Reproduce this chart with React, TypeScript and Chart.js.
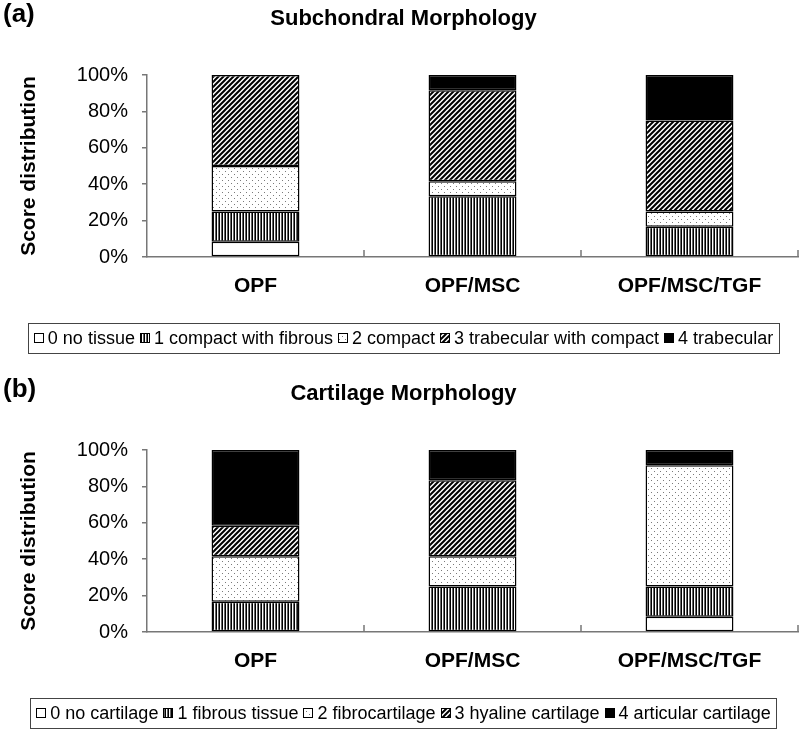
import React, { useEffect, useRef } from 'react';
import { Chart, registerables } from 'chart.js';

Chart.register(...registerables);

// ---------- data ----------
const categories = ['OPF', 'OPF/MSC', 'OPF/MSC/TGF'];
const yTickStep = 20;

const subTitle = 'Subchondral Morphology';
const subLetter = '(a)';
const subLabels = ['0 no tissue', '1 compact with fibrous', '2 compact', '3 trabecular with compact', '4 trabecular'];
const subNoTissue = [8.33, 0, 0];
const subCompactFibrous = [16.67, 33.33, 16.67];
const subCompact = [25, 8.33, 8.33];
const subTrabCompact = [50, 50, 50];
const subTrabecular = [0, 8.33, 25];

const cartTitle = 'Cartilage Morphology';
const cartLetter = '(b)';
const cartLabels = ['0 no cartilage', '1 fibrous tissue', '2 fibrocartilage', '3 hyaline cartilage', '4 articular cartilage'];
const cartNone = [0, 0, 8.33];
const cartFibrous = [16.67, 25, 16.67];
const cartFibrocart = [25, 16.67, 66.67];
const cartHyaline = [16.67, 41.67, 0];
const cartArticular = [41.67, 16.67, 8.33];

const FONT = '"Liberation Sans", Arial, sans-serif';

function makePatterns(): any[] {
  const mk = (w: number, h: number, draw: (x: CanvasRenderingContext2D) => void) => {
    const c = document.createElement('canvas');
    c.width = w;
    c.height = h;
    const x = c.getContext('2d') as CanvasRenderingContext2D;
    x.fillStyle = '#ffffff';
    x.fillRect(0, 0, w, h);
    draw(x);
    return x.createPattern(c, 'repeat');
  };
  const vert = mk(3, 3, (x) => {
    x.fillStyle = '#000';
    x.fillRect(0, 0, 1, 3);
    x.fillStyle = '#666';
    x.fillRect(2, 0, 1, 3);
  });
  const dots = mk(6, 6, (x) => {
    x.fillStyle = '#7a7a7a';
    x.fillRect(0, 0, 1, 1);
    x.fillRect(3, 3, 1, 1);
  });
  const diag = mk(5, 5, (x) => {
    x.strokeStyle = '#000';
    x.lineWidth = 2;
    x.beginPath();
    x.moveTo(-2, 7); x.lineTo(7, -2);
    x.moveTo(-3, 3); x.lineTo(3, -3);
    x.moveTo(2, 8); x.lineTo(8, 2);
    x.stroke();
  });
  return ['#ffffff', vert, dots, diag, '#000000'];
}

const decorPlugin = {
  id: 'decor',
  afterDraw(chart: any, _args: any, opts: any) {
    const { ctx, chartArea } = chart;
    const cx = chart.width / 2 + 3.5;
    ctx.save();
    // panel letter
    ctx.fillStyle = '#000';
    ctx.textBaseline = 'alphabetic';
    ctx.textAlign = 'left';
    ctx.font = `bold 26px ${FONT}`;
    ctx.fillText(opts.letter, 3, chartArea.top - 53);
    // title
    ctx.textAlign = 'center';
    ctx.font = `bold 22px ${FONT}`;
    ctx.fillText(opts.title, cx, chartArea.top - 50);

    // inward tick marks at category boundaries on the x axis
    const xs = chart.scales.x;
    const half = (xs.getPixelForValue(1) - xs.getPixelForValue(0)) / 2;
    ctx.strokeStyle = '#777';
    ctx.lineWidth = 1.5;
    ctx.beginPath();
    for (let i = 0; i < chart.data.labels.length; i++) {
      const px = xs.getPixelForValue(i) + half;
      ctx.moveTo(px, chartArea.bottom);
      ctx.lineTo(px, chartArea.bottom - 7);
    }
    ctx.stroke();

    // legend
    const ds = chart.data.datasets;
    ctx.font = `18px ${FONT}`;
    const sw = 10, gapIn = 4, gapOut = 5, pad = 6;
    const widths = ds.map((d: any) => ctx.measureText(d.label).width);
    let total = 0;
    widths.forEach((w: number, i: number) => {
      total += sw + gapIn + w + (i < widths.length - 1 ? gapOut : 0);
    });
    const boxW = total + pad * 2;
    const boxL = cx - boxW / 2;
    const boxT = chartArea.bottom + 66;
    const boxH = 30;
    const mid = boxT + boxH / 2;
    ctx.strokeStyle = '#444';
    ctx.lineWidth = 1;
    ctx.strokeRect(Math.round(boxL) + 0.5, Math.round(boxT) + 0.5, Math.round(boxW), boxH);
    let x = boxL + pad;
    ctx.textAlign = 'left';
    ctx.textBaseline = 'middle';
    ds.forEach((d: any, i: number) => {
      const sx = Math.round(x), sy = Math.round(mid - sw / 2);
      ctx.fillStyle = d.backgroundColor;
      ctx.fillRect(sx, sy, sw, sw);
      ctx.strokeStyle = '#000';
      ctx.lineWidth = 1;
      ctx.strokeRect(sx + 0.5, sy + 0.5, sw - 1, sw - 1);
      x += sw + gapIn;
      ctx.fillStyle = '#000';
      ctx.fillText(d.label, x, mid + 1);
      x += widths[i] + gapOut;
    });
    ctx.restore();
  },
};

const X_AXIS_H = 50;

function makeConfig(title: string, letter: string, labels: string[], series: number[][], height: number) {
  const patterns = makePatterns();
  return {
    type: 'bar',
    data: {
      labels: categories,
      datasets: series.map((d, i) => ({
        label: labels[i],
        data: d,
        backgroundColor: patterns[i],
        borderColor: '#000',
        borderWidth: 1.5,
        borderSkipped: false,
        categoryPercentage: 1,
        barPercentage: 0.405,
      })),
    },
    options: {
      animation: false,
      responsive: false,
      devicePixelRatio: 1,
      layout: { padding: { top: 75, left: 0, right: 2, bottom: height - 257 - X_AXIS_H } },
      plugins: {
        legend: { display: false },
        tooltip: { enabled: false },
        decor: { title, letter },
      },
      scales: {
        x: {
          stacked: true,
          grid: { display: false },
          border: { display: true, color: '#777', width: 1.5 },
          ticks: { color: '#000', font: { family: FONT, size: 21, weight: 'bold' }, padding: 9, maxRotation: 0 },
          afterFit: (s: any) => { s.height = X_AXIS_H; },
        },
        y: {
          stacked: true,
          min: 0,
          max: 100,
          grid: { drawOnChartArea: false, drawTicks: true, tickLength: 5, color: '#777', lineWidth: 1.5 },
          border: { display: true, color: '#777', width: 1.5 },
          ticks: {
            stepSize: yTickStep,
            color: '#000',
            padding: 14,
            font: { family: FONT, size: 20 },
            callback: (v: any) => v + '%',
          },
          title: {
            display: true,
            text: 'Score distribution',
            color: '#000',
            font: { family: FONT, size: 21, weight: 'bold' },
            padding: { top: 17, bottom: 0 },
          },
          afterFit: (s: any) => { s.width = 147; },
        },
      },
    },
    plugins: [decorPlugin],
  } as any;
}

function Panel(props: { title: string; letter: string; labels: string[]; series: number[][]; height: number }) {
  const ref = useRef<HTMLCanvasElement>(null);
  useEffect(() => {
    if (!ref.current) return;
    const chart = new Chart(ref.current, makeConfig(props.title, props.letter, props.labels, props.series, props.height));
    return () => chart.destroy();
  }, []);
  return <canvas ref={ref} width={800} height={props.height} style={{ display: 'block', width: 800, height: props.height }} />;
}

export default function App() {
  useEffect(() => {
    document.body.style.margin = '0';
  }, []);
  return (
    <div style={{ position: 'absolute', left: 0, top: 0, width: 800, height: 729, background: '#fff' }}>
      <Panel
        title={subTitle}
        letter={subLetter}
        labels={subLabels}
        series={[subNoTissue, subCompactFibrous, subCompact, subTrabCompact, subTrabecular]}
        height={375}
      />
      <Panel
        title={cartTitle}
        letter={cartLetter}
        labels={cartLabels}
        series={[cartNone, cartFibrous, cartFibrocart, cartHyaline, cartArticular]}
        height={354}
      />
    </div>
  );
}
